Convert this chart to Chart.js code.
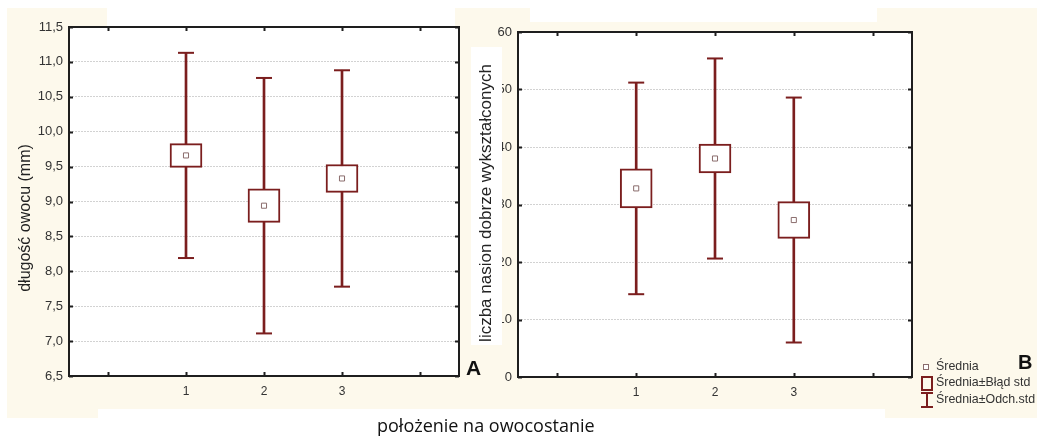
<!DOCTYPE html>
<html>
<head>
<meta charset="utf-8">
<title>Długość owocu i liczba nasion</title>
<script src="https://cdn.jsdelivr.net/npm/chart.js@4.4.1/dist/chart.umd.min.js"></script>
<style>
  html, body { margin: 0; padding: 0; background: #ffffff; }
  #wrap { position: relative; width: 1037px; height: 436px; overflow: hidden; background: #ffffff; }
  .patch { position: absolute; }
  .cream { background: #fdf9ec; }
  .white { background: #ffffff; }
  canvas { position: absolute; left: 0; top: 0; }
</style>
</head>
<body>
<div id="wrap">
  <!-- paper tint behind both panels -->
  <div class="patch cream" style="left:7px;top:8px;width:1030px;height:410px"></div>
  <div class="patch white" style="left:107px;top:8px;width:348px;height:19px"></div>
  <div class="patch white" style="left:530px;top:8px;width:347px;height:14px"></div>
  <div class="patch white" style="left:98px;top:409px;width:787px;height:27px"></div>
  <canvas id="chartA" width="1037" height="436" style="width:1037px;height:436px"></canvas>
  <canvas id="chartB" width="1037" height="436" style="width:1037px;height:436px"></canvas>
</div>
<script>
// Positions on the fruit cluster
const categories = ['1', '2', '3'];

// Panel A: fruit length (mm) — mean, standard error, standard deviation
const lengthMean   = [9.66, 8.94, 9.33];
const lengthStdErr = [0.17, 0.24, 0.20];
const lengthStdDev = [1.47, 1.83, 1.55];

// Panel B: number of well-developed seeds — mean, standard error, standard deviation
const seedMean   = [32.8, 38.0, 27.3];
const seedStdErr = [3.4, 2.5, 3.2];
const seedStdDev = [18.4, 17.4, 21.3];

// Axis ranges
const lengthAxis = { min: 6.5, max: 11.5, step: 0.5 };
const seedAxis   = { min: 0, max: 60, step: 10 };

// Text
const lengthTitle = 'długość owocu (mm)';
const seedTitle = 'liczba nasion dobrze wykształconych';
const xTitle = 'położenie na owocostanie';
const legendLabels = ['Średnia', 'Średnia±Błąd std', 'Średnia±Odch.std'];

const RED = '#7b1e1e';
const MEAN_EDGE = '#8a6c6c';
const FRAME = '#1e1e1e';
const SANS = '"Liberation Sans", Arial, sans-serif';

// empty slot on both sides of the three positions
const pad = a => [null, ...a, null];
const axisLabels = pad(categories).map(c => c === null ? '' : c);

function markDatasets(mean, se, sd) {
  return [
    { type: 'line', label: legendLabels[0], data: pad(mean), showLine: false,
      pointStyle: 'rect', pointRadius: 3.6, pointHoverRadius: 3.6,
      pointBackgroundColor: '#ffffff', pointBorderColor: MEAN_EDGE, pointBorderWidth: 1, order: 0 },
    { type: 'bar', label: legendLabels[1], data: pad(mean.map((m, i) => [m - se[i], m + se[i]])),
      backgroundColor: '#ffffff', borderColor: RED, borderWidth: 2, borderSkipped: false,
      barThickness: 32, grouped: false, order: 1 },
    { type: 'bar', label: legendLabels[2], data: pad(mean.map((m, i) => [m - sd[i], m + sd[i]])),
      backgroundColor: RED, borderWidth: 0, barThickness: 2, grouped: false, order: 2 },
    { type: 'line', data: pad(mean.map((m, i) => m + sd[i])), showLine: false,
      pointStyle: 'line', pointRadius: 8, pointHoverRadius: 8,
      pointBorderColor: RED, pointBorderWidth: 2, order: 3 },
    { type: 'line', data: pad(mean.map((m, i) => m - sd[i])), showLine: false,
      pointStyle: 'line', pointRadius: 8, pointHoverRadius: 8,
      pointBorderColor: RED, pointBorderWidth: 2, order: 3 }
  ];
}

// white plot area
const plotBackground = {
  id: 'plotBackground',
  beforeDraw(chart) {
    const { ctx, chartArea: a } = chart;
    ctx.save();
    ctx.fillStyle = '#ffffff';
    ctx.fillRect(a.left, a.top, a.right - a.left, a.bottom - a.top);
    ctx.restore();
  }
};

// closed frame with inward tick marks
const frame = {
  id: 'frame',
  afterDatasetsDraw(chart) {
    const { ctx, chartArea: a, scales: { x, y } } = chart;
    ctx.save();
    ctx.strokeStyle = FRAME;
    ctx.lineWidth = 2;
    ctx.strokeRect(a.left, a.top, a.right - a.left, a.bottom - a.top);
    ctx.beginPath();
    x.ticks.forEach((t, i) => {
      const px = Math.round(x.getPixelForTick(i)) + 0.5;
      ctx.moveTo(px, a.top); ctx.lineTo(px, a.top + 4);
      ctx.moveTo(px, a.bottom); ctx.lineTo(px, a.bottom - 4);
    });
    y.ticks.forEach((t, i) => {
      const py = Math.round(y.getPixelForTick(i)) + 0.5;
      ctx.moveTo(a.left, py); ctx.lineTo(a.left + 4, py);
      ctx.moveTo(a.right, py); ctx.lineTo(a.right - 4, py);
    });
    ctx.stroke();
    ctx.restore();
  }
};

function verticalTitle(ctx, text, cx, cy, size) {
  ctx.save();
  ctx.translate(cx, cy);
  ctx.rotate(-Math.PI / 2);
  ctx.font = size + 'px ' + SANS;
  ctx.fillStyle = '#222222';
  ctx.textAlign = 'center';
  ctx.textBaseline = 'middle';
  ctx.fillText(text, 0, 0);
  ctx.restore();
}

const decorationsA = {
  id: 'decorationsA',
  afterDraw(chart) {
    const { ctx } = chart;
    verticalTitle(ctx, lengthTitle, 25.5, 218, 16);
    ctx.save();
    ctx.fillStyle = '#111111';
    ctx.font = 'bold 21px ' + SANS;
    ctx.textBaseline = 'alphabetic';
    ctx.fillText('A', 466, 375);
    ctx.font = '18px "Open Sans", sans-serif';
    ctx.fillText(xTitle, 377, 432);
    ctx.restore();
  }
};

const decorationsB = {
  id: 'decorationsB',
  afterDraw(chart) {
    const { ctx } = chart;
    // title sits on its own white card over the tick labels
    ctx.save();
    ctx.fillStyle = '#ffffff';
    ctx.fillRect(471, 47, 31, 298);
    ctx.restore();
    verticalTitle(ctx, seedTitle, 486, 203, 17);

    ctx.save();
    ctx.fillStyle = '#111111';
    ctx.font = 'bold 20px ' + SANS;
    ctx.textBaseline = 'alphabetic';
    ctx.fillText('B', 1018, 369);

    // legend
    ctx.font = '12.4px ' + SANS;
    ctx.fillStyle = '#333333';
    ctx.textBaseline = 'middle';
    ctx.fillText(legendLabels[0], 936, 367);
    ctx.fillText(legendLabels[1], 936, 383);
    ctx.fillText(legendLabels[2], 936, 400);

    ctx.fillStyle = '#ffffff';
    ctx.strokeStyle = MEAN_EDGE;
    ctx.lineWidth = 1;
    ctx.fillRect(923.5, 364.5, 5, 5);
    ctx.strokeRect(923.5, 364.5, 5, 5);

    ctx.strokeStyle = RED;
    ctx.lineWidth = 2;
    ctx.strokeRect(922, 377, 10, 13);

    ctx.beginPath();
    ctx.moveTo(927, 393); ctx.lineTo(927, 407);
    ctx.moveTo(921, 393); ctx.lineTo(933, 393);
    ctx.moveTo(921, 407); ctx.lineTo(933, 407);
    ctx.stroke();
    ctx.restore();
  }
};

function buildChart(id, cfg) {
  return new Chart(document.getElementById(id), {
    type: 'bar',
    data: { labels: axisLabels, datasets: markDatasets(cfg.mean, cfg.se, cfg.sd) },
    options: {
      responsive: false,
      animation: false,
      events: [],
      layout: { padding: cfg.padding },
      plugins: { legend: { display: false }, tooltip: { enabled: false } },
      scales: {
        x: {
          type: 'category',
          offset: true,
          grid: { display: false, drawTicks: false },
          border: { display: false },
          ticks: { color: '#333333', font: { family: SANS, size: 12 }, padding: 8,
                   autoSkip: false, maxRotation: 0 },
          afterFit: s => { s.height = 30; }
        },
        y: {
          type: 'linear',
          min: cfg.axis.min,
          max: cfg.axis.max,
          grid: { color: '#d2d2d2', lineWidth: 1, drawTicks: false },
          border: { display: false, dash: [2, 1] },
          ticks: { stepSize: cfg.axis.step, color: '#333333', font: { family: SANS, size: 13 },
                   padding: 6, callback: cfg.format },
          afterFit: s => { s.width = cfg.yWidth; }
        }
      }
    },
    plugins: [plotBackground, frame, cfg.decorations]
  });
}

buildChart('chartA', {
  mean: lengthMean, se: lengthStdErr, sd: lengthStdDev, axis: lengthAxis,
  padding: { left: 0, top: 27, right: 578, bottom: 30 }, yWidth: 69,
  format: v => Number(v).toFixed(1).replace('.', ','),
  decorations: decorationsA
});

buildChart('chartB', {
  mean: seedMean, se: seedStdErr, sd: seedStdDev, axis: seedAxis,
  padding: { left: 458, top: 32, right: 125, bottom: 29 }, yWidth: 60,
  format: v => String(Math.round(v)),
  decorations: decorationsB
});
</script>
</body>
</html>
